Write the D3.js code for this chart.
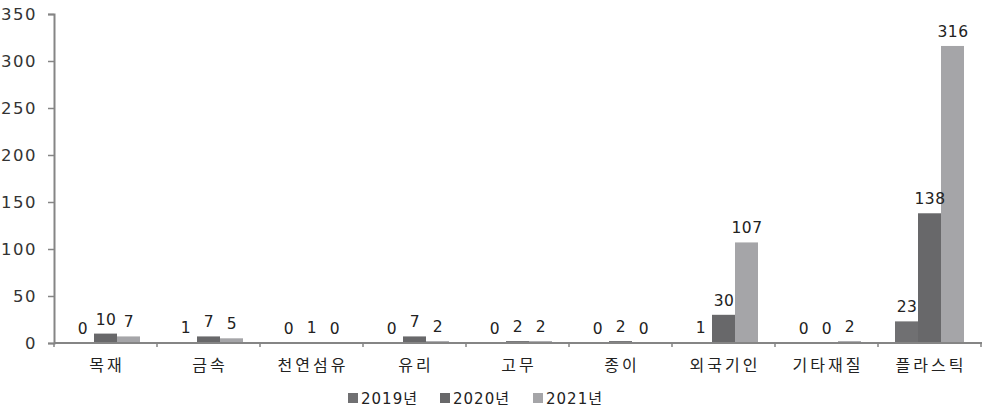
<!DOCTYPE html>
<html>
<head>
<meta charset="utf-8">
<script src="https://cdn.jsdelivr.net/npm/d3@7"></script>
<style>
  html, body { margin: 0; padding: 0; background: #fff; }
  svg { display: block; }
</style>
</head>
<body>
<svg id="chart" width="985" height="411"></svg>
<script>
const categories = ["목재", "금속", "천연섬유", "유리", "고무", "종이", "외국기인", "기타재질", "플라스틱"];
const seriesNames = ["2019년", "2020년", "2021년"];
const values2019 = [0, 1, 0, 0, 0, 0, 1, 0, 23];
const values2020 = [10, 7, 1, 7, 2, 2, 30, 0, 138];
const values2021 = [7, 5, 0, 2, 2, 0, 107, 2, 316];
const yTicks = [0, 50, 100, 150, 200, 250, 300, 350];
const colors = ["#707072", "#68686a", "#a5a5a8"];

const series = [values2019, values2020, values2021];
const svg = d3.select("#chart");

const x0 = d3.scaleBand().domain(categories).range([54, 981]).padding(0);
const x1 = d3.scaleBand().domain(seriesNames).range([0, 69]).padding(0);
const y = d3.scaleLinear().domain([0, 350]).range([343, 14]);

const axisColor = "#858585";

// Y axis
const yAxis = svg.append("g").attr("transform", "translate(54,0)")
  .call(d3.axisLeft(y).tickValues(yTicks).tickSize(6).tickPadding(11));
yAxis.select(".domain").attr("stroke", axisColor).attr("stroke-width", 2);
yAxis.selectAll(".tick line").attr("stroke", axisColor).attr("stroke-width", 1.5);
yAxis.selectAll(".tick text")
  .attr("fill", "#333")
  .style("font-family", "'DejaVu Sans', sans-serif")
  .style("font-size", "16.5px")
  .style("letter-spacing", "1.5px");

// Bars
const groups = svg.append("g").selectAll("g")
  .data(categories)
  .join("g")
  .attr("transform", d => `translate(${x0(d) + (x0.bandwidth() - 69) / 2},0)`);

const cells = (d, i) => seriesNames.map((s, j) => ({ s, j, v: series[j][i] }));

groups.selectAll("rect")
  .data(cells)
  .join("rect")
  .attr("x", d => x1(d.s))
  .attr("y", d => y(d.v))
  .attr("width", x1.bandwidth())
  .attr("height", d => y(0) - y(d.v))
  .attr("fill", d => colors[d.j]);

groups.selectAll("text.val")
  .data(cells)
  .join("text")
  .attr("class", "val")
  .attr("x", d => x1(d.s) + x1.bandwidth() / 2 + 0.5)
  .attr("y", d => y(d.v) - 9)
  .attr("text-anchor", "middle")
  .attr("fill", "#222")
  .style("font-family", "'DejaVu Sans', sans-serif")
  .style("font-size", "15.5px")
  .style("letter-spacing", "0.5px")
  .text(d => String(d.v));

// X axis
const xAxis = svg.append("g").attr("transform", "translate(0,343)");
xAxis.append("line")
  .attr("x1", 54).attr("x2", 982)
  .attr("y1", 0).attr("y2", 0)
  .attr("stroke", axisColor).attr("stroke-width", 2);
xAxis.selectAll("line.tk")
  .data(d3.range(categories.length + 1))
  .join("line")
  .attr("class", "tk")
  .attr("x1", i => 54 + x0.bandwidth() * i)
  .attr("x2", i => 54 + x0.bandwidth() * i)
  .attr("y1", 0).attr("y2", 4)
  .attr("stroke", axisColor).attr("stroke-width", 1.5);
xAxis.selectAll("text.cat")
  .data(categories)
  .join("text")
  .attr("class", "cat")
  .attr("x", d => x0(d) + x0.bandwidth() / 2 + 1.5)
  .attr("y", 28)
  .attr("text-anchor", "middle")
  .attr("fill", "#222")
  .style("font-family", "'Noto Sans CJK KR', sans-serif")
  .style("font-size", "16px")
  .style("letter-spacing", "3px")
  .text(d => d);

// Legend
const legendX = [348, 440, 533];
const legend = svg.append("g");
const li = legend.selectAll("g").data(seriesNames).join("g")
  .attr("transform", (d, i) => `translate(${legendX[i]},393)`);
li.append("rect").attr("x", 0).attr("y", 0).attr("width", 10).attr("height", 10)
  .attr("fill", (d, i) => colors[i]);
li.append("text").attr("x", 13).attr("y", 10.5)
  .attr("fill", "#222")
  .style("font-family", "'DejaVu Sans', 'Noto Sans CJK KR', sans-serif")
  .style("font-size", "15px")
  .style("letter-spacing", "1px")
  .text(d => d);
</script>
</body>
</html>
